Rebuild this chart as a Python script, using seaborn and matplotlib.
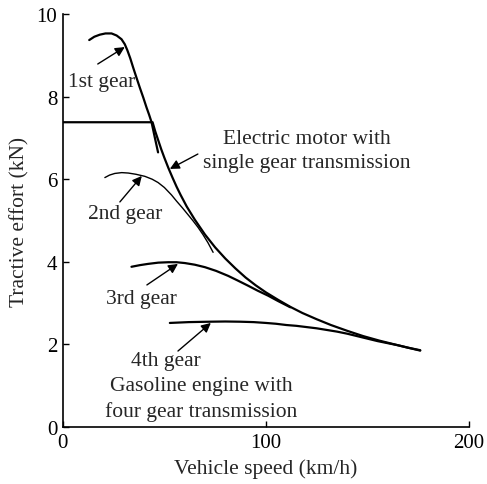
import matplotlib
matplotlib.use("Agg")
import matplotlib.pyplot as plt
import seaborn as sns

# curve data (speed km/h, tractive effort kN)
motor_speed = [0, 20, 44.2, 45.5, 47, 48.5, 50, 52, 54, 56, 58, 61, 65, 70, 75, 80, 85, 90, 95,
               100, 106, 112, 118, 125, 132, 140, 148, 156, 165, 176]
motor_force = [7.38, 7.38, 7.38, 7.16, 6.94, 6.72, 6.52, 6.27, 6.04, 5.82, 5.62, 5.34, 5.02, 4.66,
               4.35, 4.08, 3.84, 3.62, 3.43, 3.26, 3.08, 2.91, 2.76, 2.61, 2.47, 2.33, 2.20, 2.09,
               1.98, 1.85]

gear1_speed = [13.0, 15.5, 18.2, 21.0, 24.0, 26.5, 28.9, 30.5, 31.8, 33.2, 34.6, 36.2, 37.9,
               39.6, 41.2, 42.5, 43.7, 45.3, 46.9]
gear1_force = [9.37, 9.45, 9.50, 9.53, 9.53, 9.48, 9.39, 9.27, 9.12, 8.93, 8.71, 8.47, 8.22,
               7.98, 7.74, 7.56, 7.38, 7.01, 6.65]

gear2_speed = [20.7, 23.0, 25.6, 29.0, 32.2, 36.0, 40.4, 44.0, 46.9, 50.0, 53.5, 56.0, 59.0,
               61.5, 64.0, 66.5, 69.0, 71.5, 74.0]
gear2_force = [6.04, 6.10, 6.14, 6.16, 6.15, 6.12, 6.07, 6.00, 5.92, 5.80, 5.62, 5.47, 5.30,
               5.15, 5.00, 4.84, 4.66, 4.46, 4.23]

gear3_speed = [33.8, 38.0, 42.0, 47.0, 51.9, 56.0, 60.1, 65.0, 70.0, 75.5, 81.4, 86.0, 91.3,
               96.0, 101.1, 106.0, 112.0]
gear3_force = [3.88, 3.92, 3.95, 3.98, 3.99, 3.99, 3.97, 3.93, 3.87, 3.78, 3.66, 3.55, 3.42,
               3.30, 3.18, 3.05, 2.90]

gear4_speed = [52.7, 62, 72.4, 80, 87.2, 94, 100, 105, 110, 115, 120, 125, 130, 135, 140, 145,
               150, 155, 160, 165, 170, 176]
gear4_force = [2.52, 2.54, 2.55, 2.555, 2.55, 2.54, 2.52, 2.50, 2.47, 2.45, 2.42, 2.39, 2.35,
               2.31, 2.26, 2.20, 2.14, 2.08, 2.03, 1.98, 1.92, 1.86]

x_ticks = [0, 100, 200]
y_ticks = [0, 2, 4, 6, 8, 10]

sns.set(style="white")
plt.rcParams['font.family'] = ['Liberation Serif', 'DejaVu Serif']

fig = plt.figure(figsize=(4.87, 4.85), dpi=100)
ax = fig.add_axes([0.129, 0.1175, 0.834, 0.8515])

curves = [
    (motor_speed, motor_force, 1.6),
    (gear1_speed, gear1_force, 1.6),
    (gear2_speed, gear2_force, 1.0),
    (gear3_speed, gear3_force, 1.6),
    (gear4_speed, gear4_force, 1.6),
]
for xs, ys, lw in curves:
    sns.lineplot(x=xs, y=ys, ax=ax, color="black", linewidth=lw, sort=False, estimator=None)

arrow = dict(arrowstyle="-|>", color="black", lw=1, mutation_scale=14, shrinkA=0, shrinkB=0)
ax.annotate("", xy=(30.5, 9.2), xytext=(17.2, 8.79), arrowprops=arrow)
ax.annotate("", xy=(52.7, 6.25), xytext=(66.5, 6.61), arrowprops=arrow)
ax.annotate("", xy=(38.9, 6.08), xytext=(28.1, 5.45), arrowprops=arrow)
ax.annotate("", xy=(56.7, 3.95), xytext=(41.4, 3.44), arrowprops=arrow)
ax.annotate("", xy=(72.9, 2.52), xytext=(56.7, 1.84), arrowprops=arrow)

fs = 15.5
ax.text(19.2, 8.36, "1st gear", ha="center", va="center", fontsize=fs)
ax.text(120.2, 6.70, "Electric motor with\nsingle gear transmission", ha="center", va="center",
        fontsize=fs, linespacing=1.4)
ax.text(30.5, 5.16, "2nd gear", ha="center", va="center", fontsize=fs)
ax.text(38.9, 3.10, "3rd gear", ha="center", va="center", fontsize=fs)
ax.text(50.7, 1.60, "4th gear", ha="center", va="center", fontsize=fs)
ax.text(68.0, 0.68, "Gasoline engine with\nfour gear transmission", ha="center", va="center",
        fontsize=fs, linespacing=1.4)

ax.set_xlim(0, 200)
ax.set_ylim(0, 10)
ax.set_xticks(x_ticks)
ax.set_yticks(y_ticks)
ax.tick_params(direction="in", length=4, width=1, labelsize=15, colors="black", pad=4,
               bottom=True, left=True)
for side in ["top", "right"]:
    ax.spines[side].set_visible(False)
for side in ["left", "bottom"]:
    ax.spines[side].set_color("black")
    ax.spines[side].set_linewidth(1.2)
ax.set_xlabel("Vehicle speed (km/h)", fontsize=fs, labelpad=5)
ax.set_ylabel("Tractive effort (kN)", fontsize=fs, labelpad=5)

plt.savefig("out.png", dpi=100)
plt.close()
